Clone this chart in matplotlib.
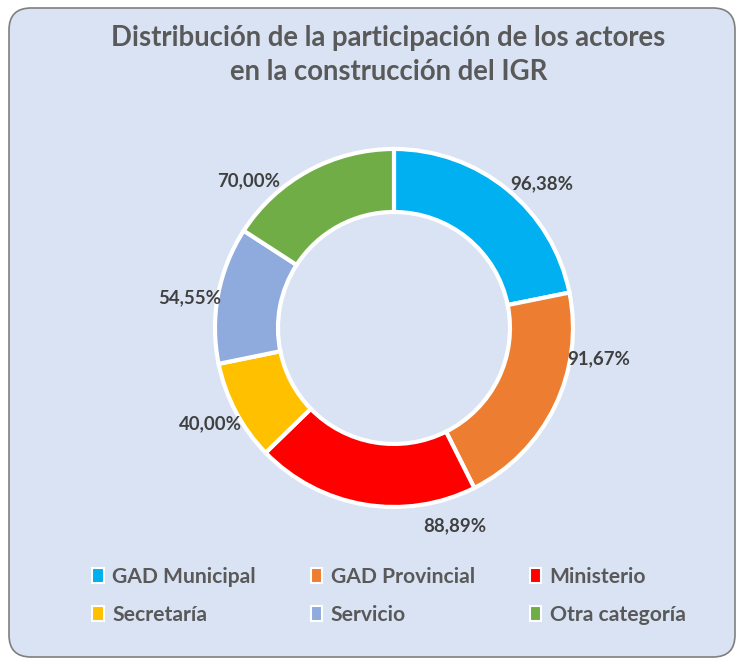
import matplotlib
matplotlib.use("Agg")
import matplotlib.pyplot as plt
import numpy as np
from matplotlib.patches import FancyBboxPatch, Patch

# data
categories = ["GAD Municipal", "GAD Provincial", "Ministerio",
              "Secretaría", "Servicio", "Otra categoría"]
values = [96.38, 91.67, 88.89, 40.00, 54.55, 70.00]
value_labels = ["96,38%", "91,67%", "88,89%", "40,00%", "54,55%", "70,00%"]

# style / layout
colors = ["#00B0F0", "#ED7D31", "#FF0000", "#FFC000", "#8FAADC", "#70AD47"]
label_angles = [44.4, -8.6, -72.9, -152.5, 171.5, 134.6]  # where Excel put the labels
label_dist = 1.155
bg = "#DAE3F3"
text_gray = "#595959"

plt.rcParams["font.family"] = ["Lato", "DejaVu Sans"]

fig = plt.figure(figsize=(7.38, 6.58), dpi=100)
fig.patch.set_facecolor("white")

panel = FancyBboxPatch((0.09, 0.01), 7.26, 6.49,
                       boxstyle="round,pad=0,rounding_size=0.22",
                       transform=fig.dpi_scale_trans, zorder=-10,
                       facecolor=bg, edgecolor="#7F7F7F", linewidth=1.2)
fig.patches.append(panel)

# donut: centre ~ (394, 328) px, outer radius ~179 px
ax = fig.add_axes([0.5339 - 0.3388, 0.5015 - 0.3799, 0.6775, 0.7599])
ax.set_facecolor("none")

ax.pie(values, colors=colors, startangle=90, counterclock=False, radius=1.0,
       wedgeprops=dict(width=0.352, edgecolor="white", linewidth=3.0))

lim = 250 / 179
ax.set_xlim(-lim, lim)
ax.set_ylim(-lim, lim)
ax.set_aspect("equal")
ax.axis("off")

for txt, ang in zip(value_labels, label_angles):
    a = np.deg2rad(ang)
    ax.text(label_dist * np.cos(a), label_dist * np.sin(a), txt,
            ha="center", va="center", fontsize=13.4, fontweight="bold",
            color="#404040")

fig.text(0.526, 0.917,
         "Distribución de la participación de los actores\nen la construcción del IGR",
         ha="center", va="center", fontsize=19.8, fontweight="bold",
         color=text_gray, linespacing=1.38)

# legend, filled column-wise
order = [0, 3, 1, 4, 2, 5]
handles = [Patch(facecolor=colors[i], edgecolor="white", linewidth=1.5) for i in order]
labels = [categories[i] for i in order]
fig.legend(handles, labels, ncol=3, loc="upper left",
           bbox_to_anchor=(73 / 738, 1 - 548 / 658),
           frameon=False, labelcolor=text_gray,
           prop=dict(weight="bold", size=15.2),
           handlelength=0.55, handleheight=0.75, handletextpad=0.4,
           columnspacing=2.6, labelspacing=0.85)

fig.savefig("out.png", dpi=100, facecolor=fig.get_facecolor())
